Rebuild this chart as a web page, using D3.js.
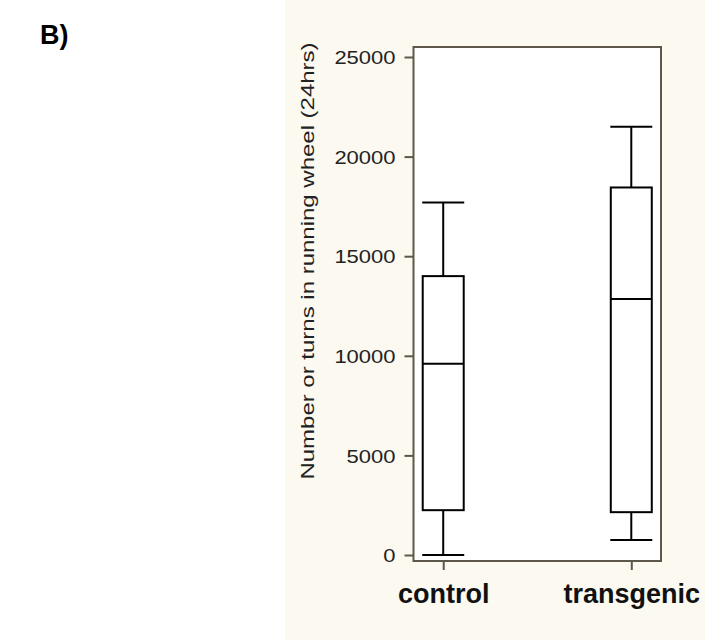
<!DOCTYPE html>
<html>
<head>
<meta charset="utf-8">
<script src="https://cdn.jsdelivr.net/npm/d3@7"></script>
<style>
  html, body { margin: 0; padding: 0; background: #ffffff; }
  svg { display: block; }
</style>
</head>
<body>
<svg id="chart" width="705" height="642"></svg>
<script>
// Running-wheel activity over 24 hours, per group (box-and-whisker summaries)
const groups   = ["control", "transgenic"];
const whiskLow = [0, 750];
const q1       = [2250, 2150];
const median   = [9600, 12850];
const q3       = [14000, 18450];
const whiskHi  = [17700, 21500];
const yTicks   = [0, 5000, 10000, 15000, 20000, 25000];

const svg = d3.select("#chart");

// beige plotting panel
svg.append("rect")
  .attr("x", 285).attr("y", 0).attr("width", 420).attr("height", 640)
  .attr("fill", "#fcf9f1");

// panel label
svg.append("text")
  .attr("x", 40).attr("y", 44)
  .attr("font-family", "Liberation Sans, Arial, sans-serif")
  .attr("font-weight", "bold").attr("font-size", 27)
  .attr("fill", "#000")
  .text("B)");

const frame = { left: 413.5, right: 661, top: 47, bottom: 561 };

const y = d3.scaleLinear().domain([0, 25000]).range([555, 57]);
const x = d3.scalePoint().domain(groups)
  .range([frame.left, frame.right]).padding(0.158);

// plot area
svg.append("rect")
  .attr("x", frame.left).attr("y", frame.top)
  .attr("width", frame.right - frame.left).attr("height", frame.bottom - frame.top)
  .attr("fill", "#ffffff").attr("stroke", "#5d584b").attr("stroke-width", 2);

// y axis; labels use a wide, flattened face
const yAxis = svg.append("g")
  .attr("transform", `translate(${frame.left},0)`)
  .call(d3.axisLeft(y).tickValues(yTicks).tickSize(9).tickPadding(9).tickFormat(d3.format("d")));
yAxis.select(".domain").remove();
yAxis.selectAll(".tick line").attr("stroke", "#5d584b").attr("stroke-width", 2);
yAxis.selectAll(".tick text")
  .attr("font-family", "Liberation Sans, Arial, sans-serif")
  .attr("font-size", 22).attr("fill", "#222")
  .attr("dy", "0.36em")
  .attr("transform", "scale(1,0.84)");

// x axis
const xAxis = svg.append("g")
  .attr("transform", `translate(0,${frame.bottom})`)
  .call(d3.axisBottom(x).tickSize(9).tickPadding(14));
xAxis.select(".domain").remove();
xAxis.selectAll(".tick line").attr("stroke", "#5d584b").attr("stroke-width", 2);
xAxis.selectAll(".tick text")
  .attr("font-family", "Liberation Sans, Arial, sans-serif")
  .attr("font-weight", "bold").attr("font-size", 27).attr("fill", "#111");

// y axis title
svg.append("text")
  .attr("transform", `translate(314,261) rotate(-90) scale(1,0.76)`)
  .attr("text-anchor", "middle")
  .attr("font-family", "Liberation Sans, Arial, sans-serif")
  .attr("font-size", 24).attr("fill", "#222")
  .text("Number or turns in running wheel (24hrs)");

// boxes
const boxW = 41, capW = 42;
const data = groups.map((g, i) => ({
  g, lo: whiskLow[i], q1: q1[i], med: median[i], q3: q3[i], hi: whiskHi[i]
}));

const boxes = svg.append("g").attr("stroke", "#000").attr("stroke-width", 2).attr("fill", "none");
const b = boxes.selectAll("g").data(data).join("g");

b.append("line")
  .attr("x1", d => x(d.g)).attr("x2", d => x(d.g))
  .attr("y1", d => y(d.hi)).attr("y2", d => y(d.q3));
b.append("line")
  .attr("x1", d => x(d.g)).attr("x2", d => x(d.g))
  .attr("y1", d => y(d.q1)).attr("y2", d => y(d.lo));
b.append("line")
  .attr("x1", d => x(d.g) - capW / 2).attr("x2", d => x(d.g) + capW / 2)
  .attr("y1", d => y(d.hi)).attr("y2", d => y(d.hi));
b.append("line")
  .attr("x1", d => x(d.g) - capW / 2).attr("x2", d => x(d.g) + capW / 2)
  .attr("y1", d => y(d.lo)).attr("y2", d => y(d.lo));
b.append("rect")
  .attr("x", d => x(d.g) - boxW / 2).attr("width", boxW)
  .attr("y", d => y(d.q3)).attr("height", d => y(d.q1) - y(d.q3))
  .attr("fill", "#fff");
b.append("line")
  .attr("x1", d => x(d.g) - boxW / 2).attr("x2", d => x(d.g) + boxW / 2)
  .attr("y1", d => y(d.med)).attr("y2", d => y(d.med));
</script>
</body>
</html>
